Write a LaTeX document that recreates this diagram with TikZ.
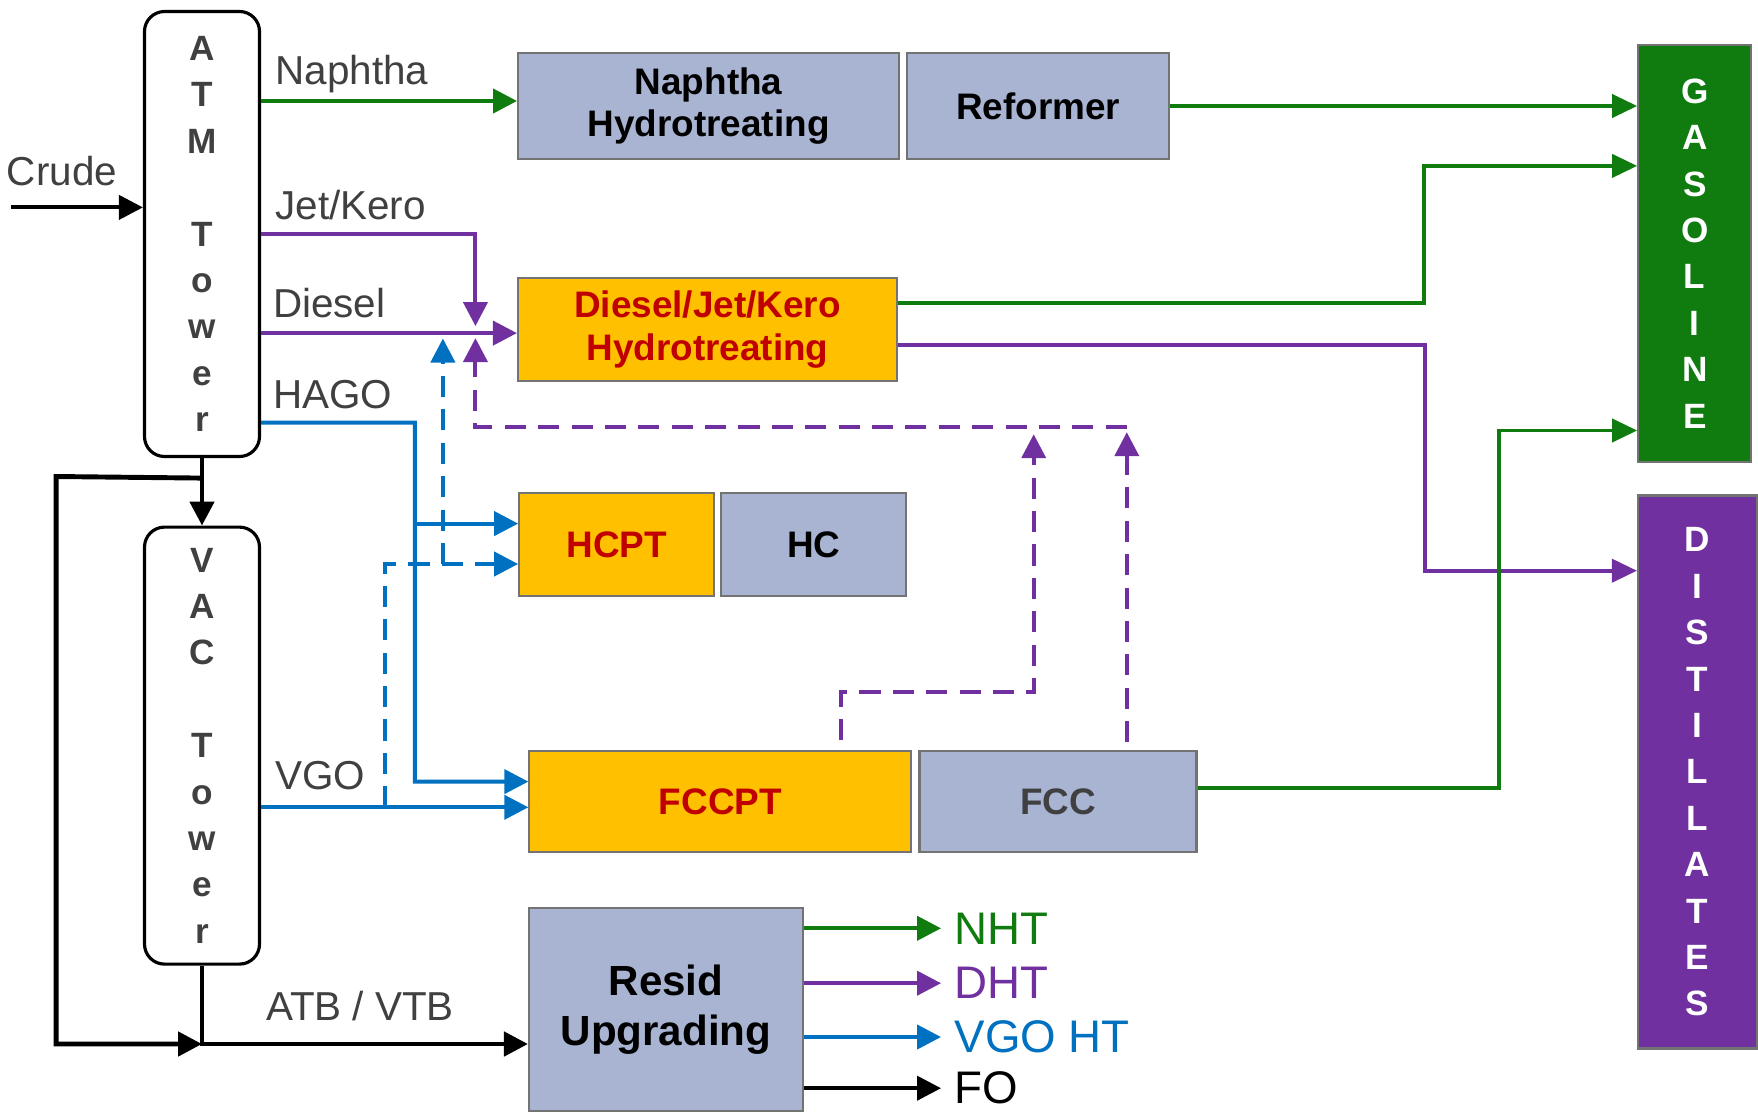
\documentclass[tikz,border=0pt]{standalone}
\usepackage{fontspec}
\setmainfont{Liberation Sans}
\usepackage{tikz}
\usetikzlibrary{arrows.meta,positioning}
\definecolor{green}{HTML}{107C10}
\definecolor{purple}{HTML}{7030A0}
\definecolor{blue}{HTML}{0070C0}
\definecolor{unitblue}{HTML}{A8B4D2}
\definecolor{unitorange}{HTML}{FFC000}
\definecolor{darkred}{HTML}{C00000}
\definecolor{labelgray}{HTML}{404040}

\begin{document}
\begin{tikzpicture}[
    unit/.style={draw=black!55, line width=0.6pt, align=center, minimum height=1.03cm,
                 font=\bfseries\fontsize{10.5}{12.1}\selectfont},
    hydro/.style={unit, fill=unitorange, text=darkred},
    conv/.style={unit, fill=unitblue, text=black},
    tower/.style={draw, line width=0.9pt, rounded corners=2mm, align=center,
                  minimum width=1.15cm, text=labelgray, font=\bfseries\fontsize{10}{13.2}\selectfont},
    pool/.style={draw=black!55, line width=0.6pt, align=center, text=white,
                 font=\bfseries\fontsize{10}{13.2}\selectfont},
    cut/.style={anchor=west, inner sep=0pt, text=labelgray, font=\fontsize{11.5}{13}\selectfont},
    product/.style={anchor=west, inner sep=0.5mm, font=\fontsize{13}{15}\selectfont},
    flow/.style={line width=1.15pt, -{Triangle[length=2.4mm, width=2.4mm]}},
    blend/.style={line width=1.1pt, -{Triangle[length=2.5mm, width=2.3mm]}},
    recycle/.style={flow, dash pattern=on 6pt off 3.5pt},
    bottoms/.style={flow, line width=1.4pt}
]
    \useasboundingbox (0,0) rectangle (17.58,11.13);
    % TOWERS
    \node[tower, minimum height=4.45cm] (atm) at (2.02, 8.79) {A\\T\\M\\~\\T\\o\\w\\e\\r};
    \node[tower, minimum height=4.37cm] (vac) at (2.02, 3.674) {V\\A\\C\\~\\T\\o\\w\\e\\r};
    % PROCESS UNITS
    \node[conv, minimum width=3.81cm, minimum height=1.065cm] (nht) at (7.086, 10.07) {Naphtha\\Hydrotreating};
    \node[conv, minimum width=2.62cm, minimum height=1.065cm, right=0.6mm of nht] (reformer) {Reformer};
    \node[hydro, minimum width=3.79cm] (dht) at (7.075, 7.834) {Diesel/Jet/Kero\\Hydrotreating};
    \node[hydro, minimum width=1.95cm] (hcpt) at (6.167, 5.681) {HCPT};
    \node[conv, minimum width=1.85cm, right=0.5mm of hcpt] (hc) {HC};
    \node[hydro, minimum width=3.82cm, minimum height=1.01cm] (fccpt) at (7.204, 3.114) {FCCPT};
    \node[conv, minimum width=2.77cm, minimum height=1.01cm, text=labelgray, right=0.6mm of fccpt] (fcc) {FCC};
    \node[conv, minimum width=2.74cm, minimum height=2.03cm, font=\bfseries\fontsize{12}{14.3}\selectfont] (resid) at (6.66, 1.035) {Resid\\Upgrading};
    % POOLS
    \node[pool, fill=green, minimum width=1.13cm, minimum height=4.17cm] (gas) at (16.947, 8.596) {G\\A\\S\\O\\L\\I\\N\\E};
    \node[pool, fill=purple, minimum width=1.19cm, minimum height=5.53cm] (dist) at (16.975, 3.41) {D\\I\\S\\T\\I\\L\\L\\A\\T\\E\\S};

    % CRUDE
    \coordinate (crudein) at (0.11, 9.056);
    \node[cut, anchor=center] (crude) at (0.62, 9.415) {Crude};
    \draw[flow] (crudein) -- (crudein -| atm.west);
    % NAPHTHA
    \coordinate (naphin) at ([yshift=0.5mm]nht.west);
    \draw[flow, green] (naphin -| atm.east) -- (naphin);
    \node[cut] (naphtha) at (2.747, 10.39) {Naphtha};
    % JET/KERO AND DIESEL
    \coordinate (dhtin) at ([yshift=-0.35mm]dht.west);
    \coordinate (mix) at ([xshift=-4.15mm]dhtin);
    \draw[flow, purple] (atm.east) -| ([yshift=0.7mm]mix);
    \draw[flow, purple] (dhtin -| atm.east) -- (dhtin);
    \node[cut] (jetkero) at (2.747, 9.078) {Jet/Kero};
    \node[cut] (diesel) at (2.724, 8.103) {Diesel};
    % HAGO
    \coordinate (hagoout) at ([yshift=-18.87mm]atm.east);
    \coordinate (hagobus) at (4.148, 6.903);
    \coordinate (hcptin) at ([yshift=2.13mm]hcpt.west);
    \coordinate (fcchago) at ([yshift=2mm]fccpt.west);
    \draw[flow, blue] (hagoout) -- (hagobus) |- (fcchago);
    \draw[flow, blue] (hagobus |- hcptin) -- (hcptin);
    \node[cut] (hago) at (2.724, 7.183) {HAGO};
    % VGO
    \coordinate (fccvgo) at ([yshift=-0.57mm]fccpt.west);
    \draw[flow, blue] (fccvgo -| vac.east) -- (fccvgo);
    \node[cut] (vgo) at (2.747, 3.371) {VGO};
    % DASHED FEEDS TO HCPT AND DHT
    \coordinate (vgotap) at (3.846, 3.057);
    \coordinate (hcptdash) at ([yshift=-1.91mm]hcpt.west);
    \coordinate (hcptrise) at (4.429, 5.490);
    \coordinate (bluetip) at (4.429, 7.745);
    \draw[recycle, blue] (vgotap) |- (hcptdash);
    \draw[recycle, blue] (hcptrise) -- (bluetip);
    % FCC LIGHT CYCLE BACK TO DHT
    \coordinate (hdrR) at (11.268, 6.858);
    \coordinate (hdrM) at (10.337, 6.858);
    \coordinate (fcctop) at (11.268, 3.708);
    \coordinate (fccpttop) at (8.409, 3.73);
    \coordinate (fccptbend) at (8.409, 4.212);
    \draw[recycle, purple] (fccpttop) -- (fccptbend) -| ([yshift=-0.7mm]hdrM);
    \draw[recycle, purple] (fcctop) -- ([yshift=-0.5mm]hdrR);
    \draw[recycle, purple] (hdrR) -| ([yshift=-0.5mm]mix);

    % TO GASOLINE AND DISTILLATES
    \draw[blend, green] (reformer.east) -- (reformer.east -| gas.west);
    \coordinate (dhtgas) at ([yshift=2.7mm]dht.east);
    \coordinate (gasbend1) at (14.239, 9.471);
    \draw[blend, green] (dhtgas) -| (gasbend1) -- (gasbend1 -| gas.west);
    \coordinate (dhtdist) at ([yshift=-1.57mm]dht.east);
    \coordinate (distbend) at (14.25, 5.423);
    \draw[blend, purple] (dhtdist) -| (distbend) -- (distbend -| dist.west);
    \coordinate (fccgas) at ([yshift=1.34mm]fcc.east);
    \coordinate (gasbend2) at (14.99, 6.825);
    \draw[blend, green] (fccgas) -| (gasbend2) -- (gasbend2 -| gas.west);

    % BOTTOMS
    \draw[bottoms] (atm.south) -- (vac.north);
    \coordinate (atmtap) at ([yshift=-2mm]atm.south);
    \coordinate (bypass) at (0.561, 6.365);
    \coordinate (residin) at ([yshift=-3.45mm]resid.west);
    \coordinate (vtb) at (residin -| vac.south);
    \draw[bottoms] (atmtap) -- (bypass) |- (vtb);
    \draw[bottoms] (vac.south) |- (residin);
    \node[cut, anchor=center] (atbvtb) at (3.6, 1.073) {ATB / VTB};

    % RESID PRODUCTS
    \foreach \dy/\col/\name/\txt in {8.12/green/nhtout/NHT, 2.63/purple/dhtout/DHT, -2.75/blue/vgoht/VGO HT, -7.87/black/fo/FO}
    {
        \node[product, text=\col] (\name) at ([xshift=14.5mm, yshift=\dy mm]resid.east) {\txt};
        \draw[flow, \col] ([yshift=\dy mm]resid.east) -- ([xshift=-0.8mm]\name.west);
    }
\end{tikzpicture}
\end{document}
